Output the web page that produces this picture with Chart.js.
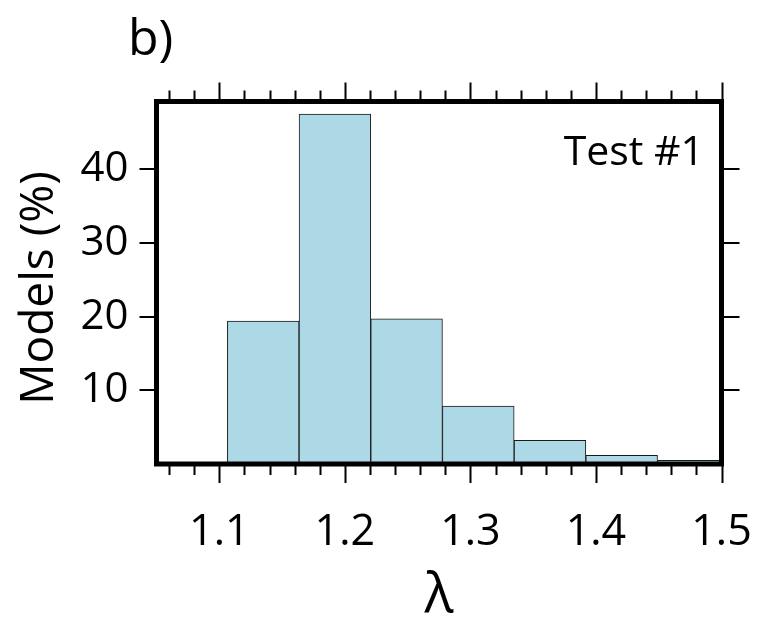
<!DOCTYPE html>
<html>
<head>
<meta charset="utf-8">
<script src="https://cdn.jsdelivr.net/npm/chart.js@4"></script>
<style>
  html, body { margin: 0; padding: 0; background: #fff; }
  #wrap { width: 760px; height: 618px; position: relative; }
</style>
</head>
<body>
<div id="wrap"><canvas id="hist"></canvas></div>
<script>
// histogram bins (lambda) and share of models in each bin
const binCenters = [1.1350, 1.1921, 1.2492, 1.3063, 1.3634, 1.4205, 1.4776];
const modelPercent = [19.4, 47.5, 19.7, 7.85, 3.2, 1.17, 0.5];
const xTicks = [1.1, 1.2, 1.3, 1.4, 1.5];
const yTicks = [10, 20, 30, 40];

const FONT = "'Open Sans', 'Noto Sans', sans-serif";

// frame, outward ticks and text labels
const framePlugin = {
    id: 'frame',
    afterDatasetsDraw(chart) {
        const { ctx, chartArea: a, scales: { x, y } } = chart;
        ctx.save();
        ctx.strokeStyle = '#000';

        // tick marks
        ctx.lineWidth = 2;
        ctx.beginPath();
        for (let v = 1.06; v <= 1.501; v += 0.02) {
            const px = Math.round(x.getPixelForValue(v)) + 0.5;
            const major = xTicks.some(t => Math.abs(t - v) < 1e-6);
            const len = major ? 17 : 9;
            ctx.moveTo(px, a.bottom);
            ctx.lineTo(px, a.bottom + 2 + len);
            ctx.moveTo(px, a.top);
            ctx.lineTo(px, a.top - 2 - len);
        }
        yTicks.forEach(v => {
            const py = Math.round(y.getPixelForValue(v));
            ctx.moveTo(a.left, py);
            ctx.lineTo(a.left - 17, py);
            ctx.moveTo(a.right, py);
            ctx.lineTo(a.right + 18, py);
        });
        ctx.stroke();

        // frame
        ctx.lineWidth = 5;
        ctx.strokeRect(a.left, a.top, a.right - a.left, a.bottom - a.top);

        // texts
        ctx.fillStyle = '#000';
        ctx.textBaseline = 'alphabetic';
        ctx.font = '50px ' + FONT;
        ctx.textAlign = 'left';
        ctx.fillText('b)', 128, 55);

        ctx.font = '41px ' + FONT;
        ctx.textAlign = 'right';
        ctx.fillText('Test #1', 704, 165);

        ctx.font = '54px ' + FONT;
        ctx.textAlign = 'center';
        ctx.fillText('λ', 439, 612);

        ctx.save();
        ctx.translate(53, 288);
        ctx.rotate(-Math.PI / 2);
        ctx.font = '46px ' + FONT;
        ctx.fillText('Models (%)', 0, 0);
        ctx.restore();

        ctx.restore();
    }
};

const ctx = document.getElementById('hist').getContext('2d');

new Chart(ctx, {
    type: 'bar',
    data: {
        datasets: [{
            data: binCenters.map((c, i) => ({ x: c, y: modelPercent[i] })),
            backgroundColor: '#add8e6',
            borderColor: '#1a1a1a',
            borderWidth: 1,
            borderSkipped: 'start',
            barPercentage: 1,
            categoryPercentage: 1
        }]
    },
    options: {
        responsive: true,
        maintainAspectRatio: false,
        animation: false,
        layout: {
            padding: { left: 0, right: 38.5, top: 101.5, bottom: 0 }
        },
        plugins: {
            legend: { display: false },
            tooltip: { enabled: false }
        },
        scales: {
            x: {
                type: 'linear',
                min: 1.05,
                max: 1.5,
                offset: false,
                grid: { display: false, drawTicks: false },
                border: { display: false },
                afterBuildTicks: s => { s.ticks = xTicks.map(v => ({ value: v })); },
                afterFit: s => { s.height = 154; s.paddingLeft = 0; s.paddingRight = 0; },
                ticks: {
                    padding: 43,
                    maxRotation: 0,
                    autoSkip: false,
                    color: '#000',
                    font: { family: FONT, size: 43 },
                    callback: v => v.toFixed(1)
                }
            },
            y: {
                min: 0,
                max: 49.2,
                grid: { display: false, drawTicks: false },
                border: { display: false },
                afterBuildTicks: s => { s.ticks = yTicks.map(v => ({ value: v })); },
                afterFit: s => { s.width = 156.5; s.paddingTop = 0; s.paddingBottom = 0; },
                ticks: {
                    padding: 28,
                    color: '#000',
                    font: { family: FONT, size: 42 }
                }
            }
        }
    },
    plugins: [framePlugin]
});
</script>
</body>
</html>
